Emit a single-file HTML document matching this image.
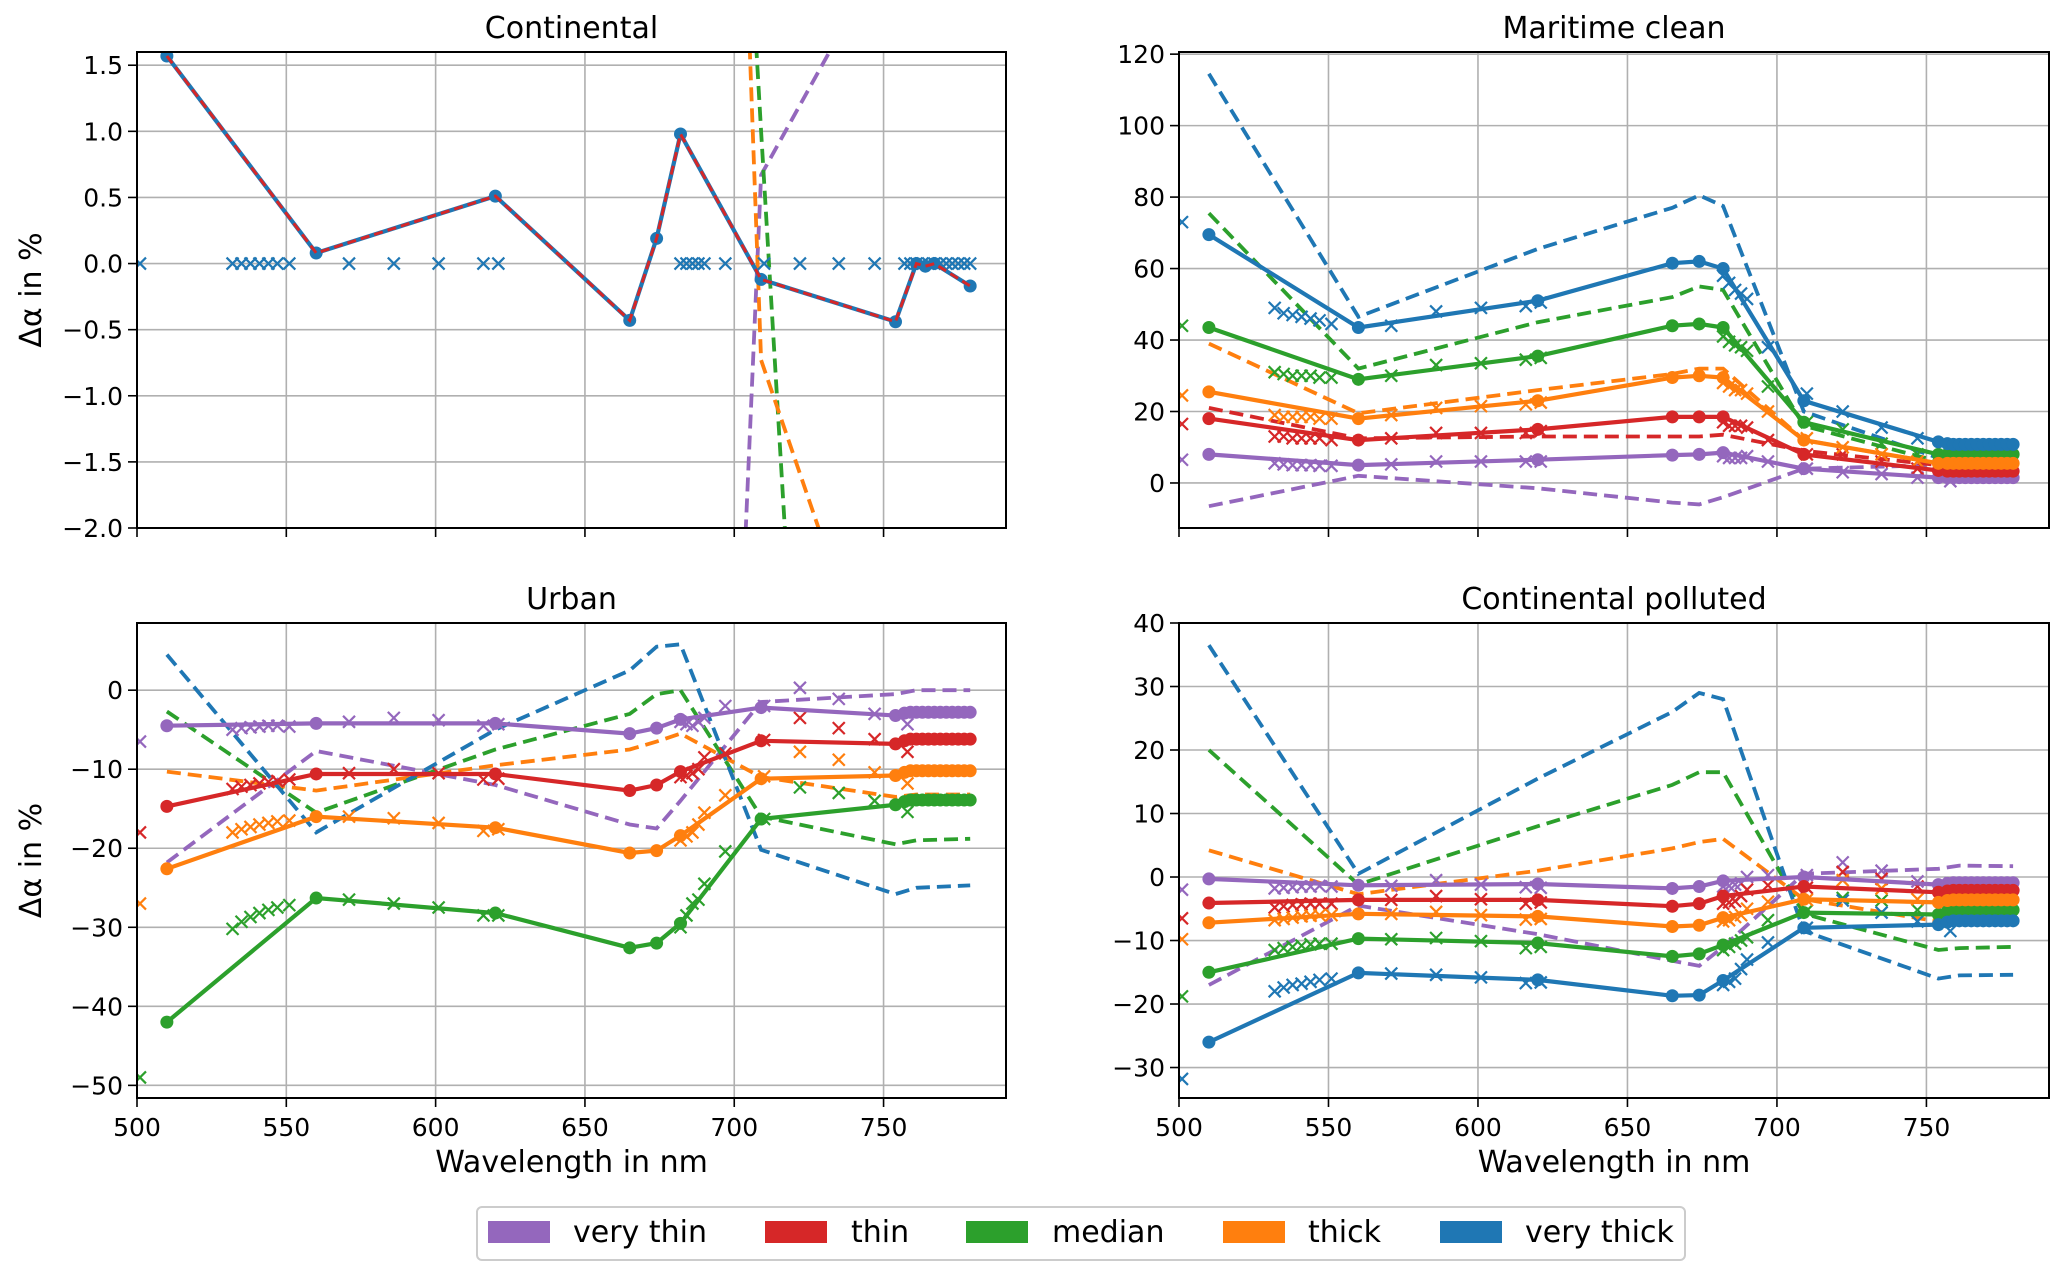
<!DOCTYPE html>
<html><head><meta charset="utf-8"><style>
html,body{margin:0;padding:0;background:#fff;overflow:hidden;width:2067px;height:1280px;}
svg{display:block;font-family:"DejaVu Sans","Liberation Sans",sans-serif;}
</style></head><body>
<svg id="fig" width="2067" height="1280" viewBox="0 0 2067 1280" xmlns="http://www.w3.org/2000/svg">
<rect width="2067" height="1280" fill="#fff"/>
<g id="legend">
<rect x="477" y="1207" width="1208" height="53" rx="5" fill="#fff" stroke="#cccccc" stroke-width="2"/>
<g><rect x="488" y="1221" width="62" height="22" fill="#9467bd"/><text x="573" y="1242" font-size="30">very thin</text></g>
<g><rect x="765" y="1221" width="62" height="22" fill="#d62728"/><text x="851" y="1242" font-size="30">thin</text></g>
<g><rect x="966" y="1221" width="62" height="22" fill="#2ca02c"/><text x="1052" y="1242" font-size="30">median</text></g>
<g><rect x="1223" y="1221" width="62" height="22" fill="#ff7f0e"/><text x="1308" y="1242" font-size="30">thick</text></g>
<g><rect x="1440" y="1221" width="62" height="22" fill="#1f77b4"/><text x="1525" y="1242" font-size="30">very thick</text></g>
</g>
</svg>
<script>
// ---- wavelength grids ----
const solidWl = [510,560,620,665,674,682,709,754,757,759,761,763,765,767,769,771,773,775,777,779];
const contSolidWl = [510,560,620,665,674,682,709,754,761,764,767,779];
const dashWl = [510,560,620,665,674,682,709,754,761,779];
const crossWl = [501,532,535,538,541,544,547,551,571,586,601,616,621,682,684,686,688,690,697,710,722,735,747,758];
const contCrossWl = [501,532,535,538,541,544,547,551,571,586,601,616,621,682,684,686,688,690,697,710,722,735,747,757,759,761,763,765,767,769,771,773,775,777,779];
const xTicks = [500,550,600,650,700,750];

// ---- Continental ----
const contSolidVeryThick = [1.57,0.08,0.51,-0.43,0.19,0.98,-0.12,-0.44,0.0,-0.02,0.0,-0.17];
const contDashThin = [1.57,0.08,0.51,-0.43,0.19,0.98,-0.12,-0.44,0.0,-0.02,0.0,-0.17];
const contDashVeryThin = [-8,-9,-10,-12,-13,-13.4,0.67,2.5,2.8,3.2];
const contDashMedian = [20,20,20,15,13,11.6,1.0,-16,-17,-18];
const contDashThick = [20,20,20,18,17,16,-0.73,-3.7,-4,-4.5];
const contCrossVeryThick = [0,0,0,0,0,0,0,0,0,0,0,0,0,0,0,0,0,0,0,0,0,0,0,0,0,0,0,0,0,0,0,0,0,0,0];
const contYTicks = [-2,-1.5,-1,-0.5,0,0.5,1,1.5];

// ---- Maritime clean ----
const marSolidVeryThin = [8,5,6.5,7.8,8,8.5,4,1.5,1.5,1.5,1.5,1.5,1.5,1.5,1.5,1.5,1.5,1.5,1.5,1.5];
const marSolidThin = [18,12,15,18.5,18.5,18.5,8,3.5,3.3,3.3,3.3,3.3,3.3,3.3,3.3,3.3,3.3,3.3,3.3,3.3];
const marSolidMedian = [43.5,29,35.5,44,44.5,43.5,17,8,8,8,8,8,8,8,8,8,8,8,8,8];
const marSolidThick = [25.5,18,23,29.5,30,29.5,12,5.5,5.5,5.5,5.5,5.5,5.5,5.5,5.5,5.5,5.5,5.5,5.5,5.5];
const marSolidVeryThick = [69.5,43.5,51,61.5,62,60,23,11.5,11,10.8,10.8,10.8,10.8,10.8,10.8,10.8,10.8,10.8,10.8,10.8];
const marDashVeryThin = [-6.5,2,-1.5,-5.5,-6,-4,4,5,5,5];
const marDashThin = [21,12.5,13,13,13,13.5,9,5,5,4];
const marDashMedian = [75.5,32,45,52,55,54,16,6,6,6];
const marDashThick = [39,19.5,26,30.5,32,32,12,5.5,5,5];
const marDashVeryThick = [114.5,46.5,65.5,77,80.5,77.5,20,7,6.5,6.5];
const marCrossVeryThin = [6.5,5.5,5.2,5,5,5,4.8,4.8,5.2,6,6,6,6,7.5,7,7,7,7.5,6,4,3,2.5,1.5,0.5];
const marCrossThin = [16.5,13,13,12.5,12.5,12.5,12.5,12,12.5,14,14,14,14.5,17,16,16,16,15.5,12,8,8,6,4,3];
const marCrossMedian = [44,31,30.5,30,30,30,29.5,29.5,30,33,33.5,34.5,35,41,39.5,38.5,38,37,27,17,15,11,8,7];
const marCrossThick = [24.5,19,18.5,18.5,18.5,18.5,18,18,19,21,21.5,22,22.5,28,27,26,26,25,20,12.5,10,8,6,4];
const marCrossVeryThick = [73,49,47.5,47,46.5,46,45.5,44.5,44,48,49,49.5,50.5,58,56,54,53,51.5,38,25,20,15.5,12.5,10.5];
const marYTicks = [0,20,40,60,80,100,120];

// ---- Urban ----
const urbSolidVeryThin = [-4.5,-4.2,-4.2,-5.5,-4.8,-3.7,-2.2,-3.2,-2.9,-2.8,-2.8,-2.8,-2.8,-2.8,-2.8,-2.8,-2.8,-2.8,-2.8,-2.8];
const urbSolidThin = [-14.7,-10.6,-10.6,-12.7,-12,-10.3,-6.4,-6.8,-6.4,-6.2,-6.2,-6.2,-6.2,-6.2,-6.2,-6.2,-6.2,-6.2,-6.2,-6.2];
const urbSolidMedian = [-42,-26.3,-28.2,-32.6,-32,-29.5,-16.3,-14.5,-14.1,-13.9,-13.9,-13.9,-13.9,-13.9,-13.9,-13.9,-13.9,-13.9,-13.9,-13.9];
const urbSolidThick = [-22.6,-16,-17.4,-20.6,-20.3,-18.4,-11.2,-10.8,-10.4,-10.2,-10.2,-10.2,-10.2,-10.2,-10.2,-10.2,-10.2,-10.2,-10.2,-10.2];
const urbDashVeryThin = [-21.8,-7.7,-12,-17,-17.5,-14,-1.5,-0.5,0,0];
const urbDashMedian = [-2.7,-15.5,-7.5,-3,-0.5,0,-16,-19.5,-19,-18.8];
const urbDashThick = [-10.3,-12.7,-9.5,-7.5,-6.5,-5.5,-11,-13.5,-13.2,-13.2];
const urbDashVeryThick = [4.5,-18,-5,2.5,5.5,5.8,-20.2,-25.8,-25,-24.7];
const urbCrossVeryThin = [-6.5,-5,-4.8,-4.7,-4.6,-4.5,-4.5,-4.6,-4,-3.5,-3.8,-4.5,-4.3,-4,-4.3,-4.5,-4,-3.5,-2,-2,0.3,-1.1,-3,-4.3];
const urbCrossThin = [-18,-12.5,-12.2,-12,-11.8,-11.6,-11.5,-11.3,-10.5,-10,-10.5,-11.3,-11.2,-11,-10.8,-10.5,-10,-8.5,-8,-6.3,-3.5,-4.8,-6.2,-7.8];
const urbCrossMedian = [-49,-30.2,-29.3,-28.7,-28.2,-27.8,-27.5,-27.2,-26.5,-27,-27.5,-28.5,-28.5,-30,-28.5,-27,-26.5,-24.5,-20.4,-16.3,-12.3,-13,-14,-15.4];
const urbCrossThick = [-27,-18,-17.6,-17.3,-17,-16.8,-16.6,-16.5,-16,-16.2,-16.8,-17.8,-17.6,-19,-18.5,-18,-17,-15.5,-13.3,-10.9,-7.8,-8.8,-10.4,-11.8];
const urbYTicks = [-50,-40,-30,-20,-10,0];

// ---- Continental polluted ----
const polSolidVeryThin = [-0.3,-1.3,-1.1,-1.8,-1.5,-0.6,0,-1.2,-1,-0.9,-0.9,-0.9,-0.9,-0.9,-0.9,-0.9,-0.9,-0.9,-0.9,-0.9];
const polSolidThin = [-4.1,-3.6,-3.6,-4.6,-4.2,-3,-1.5,-2.4,-2.2,-2.1,-2.1,-2.1,-2.1,-2.1,-2.1,-2.1,-2.1,-2.1,-2.1,-2.1];
const polSolidMedian = [-15,-9.7,-10.4,-12.5,-12.1,-10.7,-5.6,-5.9,-5.4,-5.2,-5.2,-5.2,-5.2,-5.2,-5.2,-5.2,-5.2,-5.2,-5.2,-5.2];
const polSolidThick = [-7.2,-5.8,-6.2,-7.8,-7.6,-6.4,-3.5,-4,-3.7,-3.6,-3.6,-3.6,-3.6,-3.6,-3.6,-3.6,-3.6,-3.6,-3.6,-3.6];
const polSolidVeryThick = [-26,-15.1,-16.2,-18.7,-18.6,-16.3,-8,-7.5,-7.1,-6.9,-6.9,-6.9,-6.9,-6.9,-6.9,-6.9,-6.9,-6.9,-6.9,-6.9];
const polDashVeryThin = [-17,-4.5,-9,-13.2,-14,-11,0.5,1.3,1.8,1.7];
const polDashMedian = [20,-1.2,8,14.5,16.5,16.5,-5.8,-11.5,-11.2,-11];
const polDashThick = [4.2,-2.7,1,4.5,5.5,6,-3.5,-7,-7,-7];
const polDashVeryThick = [36.5,0.5,15.5,26,29,28,-8.5,-16,-15.5,-15.4];
const polCrossVeryThin = [-2,-1.8,-1.7,-1.6,-1.5,-1.5,-1.4,-1.5,-1.4,-0.5,-1.2,-1.6,-1.7,-1.5,-1.4,-1.2,-1,0,0.3,0.3,2.3,1,-0.7,-1];
const polCrossThin = [-6.5,-4.8,-4.6,-4.4,-4.3,-4.2,-4.2,-4.2,-3.6,-3,-3.5,-4.2,-4,-4.2,-4,-3.8,-3,-2,-1.3,-1.7,0.8,-0.3,-1.5,-2];
const polCrossMedian = [-18.8,-11.5,-11.2,-11,-10.8,-10.6,-10.5,-10.5,-9.8,-9.6,-10.1,-11.2,-11,-11.5,-11,-10.5,-10,-9.5,-6.8,-5.3,-3.3,-3.7,-5.2,-5.5];
const polCrossThick = [-9.8,-6.8,-6.6,-6.4,-6.2,-6.1,-6,-6,-5.8,-5.5,-6,-6.7,-6.6,-7,-6.8,-6.3,-6,-5,-3.9,-3.6,-0.5,-1.8,-3.5,-4];
const polCrossVeryThick = [-31.8,-18,-17.4,-17,-16.8,-16.5,-16.2,-16,-15.2,-15.4,-15.8,-16.7,-16.6,-17,-16.5,-16,-14.5,-13,-10.3,-8,-3.7,-5.6,-7,-8.5];
const polYTicks = [-30,-20,-10,0,10,20,30,40];

const C = {vt:'#9467bd', t:'#d62728', m:'#2ca02c', k:'#ff7f0e', vk:'#1f77b4'};
const NS = 'http://www.w3.org/2000/svg';
const svg = document.getElementById('fig');
function mk(tag, attrs, parent){const e=document.createElementNS(NS,tag);for(const k in attrs)e.setAttribute(k,attrs[k]);(parent||svg).appendChild(e);return e;}
function fmt(v,dec){const s=v.toFixed(dec);return s.replace('-','\u2212');}

const panels = [
 {id:'continental', title:'Continental', L:137,R:1006,T:52,B:528, ymin:-2.0,ymax:1.6, yt:contYTicks, dec:1, xlab:false, ylab:true,
  sWl:contSolidWl, cWl:contCrossWl, oWl:contSolidWl,
  dashes:[['very-thin',contDashVeryThin,C.vt],['median',contDashMedian,C.m],['thick',contDashThick,C.k]],
  solids:[['very-thick',contSolidVeryThick,C.vk]],
  overDash:[['thin',contDashThin,C.t]],
  crosses:[['very-thick',contCrossVeryThick,C.vk]]},
 {id:'maritime', title:'Maritime clean', L:1179,R:2049,T:52,B:528, ymin:-12.6,ymax:120.6, yt:marYTicks, dec:0, xlab:false, ylab:false,
  sWl:solidWl, cWl:crossWl, oWl:dashWl,
  dashes:[['very-thin',marDashVeryThin,C.vt],['thin',marDashThin,C.t],['median',marDashMedian,C.m],['thick',marDashThick,C.k],['very-thick',marDashVeryThick,C.vk]],
  solids:[['very-thin',marSolidVeryThin,C.vt],['thin',marSolidThin,C.t],['median',marSolidMedian,C.m],['thick',marSolidThick,C.k],['very-thick',marSolidVeryThick,C.vk]],
  overDash:[],
  crosses:[['very-thin',marCrossVeryThin,C.vt],['thin',marCrossThin,C.t],['median',marCrossMedian,C.m],['thick',marCrossThick,C.k],['very-thick',marCrossVeryThick,C.vk]]},
 {id:'urban', title:'Urban', L:137,R:1006,T:623,B:1098, ymin:-51.6,ymax:8.5, yt:urbYTicks, dec:0, xlab:true, ylab:true,
  sWl:solidWl, cWl:crossWl, oWl:dashWl,
  dashes:[['very-thin',urbDashVeryThin,C.vt],['median',urbDashMedian,C.m],['thick',urbDashThick,C.k],['very-thick',urbDashVeryThick,C.vk]],
  solids:[['very-thin',urbSolidVeryThin,C.vt],['thin',urbSolidThin,C.t],['median',urbSolidMedian,C.m],['thick',urbSolidThick,C.k]],
  overDash:[],
  crosses:[['very-thin',urbCrossVeryThin,C.vt],['thin',urbCrossThin,C.t],['median',urbCrossMedian,C.m],['thick',urbCrossThick,C.k]]},
 {id:'polluted', title:'Continental polluted', L:1179,R:2049,T:623,B:1098, ymin:-34.8,ymax:40, yt:polYTicks, dec:0, xlab:true, ylab:false,
  sWl:solidWl, cWl:crossWl, oWl:dashWl,
  dashes:[['very-thin',polDashVeryThin,C.vt],['median',polDashMedian,C.m],['thick',polDashThick,C.k],['very-thick',polDashVeryThick,C.vk]],
  solids:[['very-thin',polSolidVeryThin,C.vt],['thin',polSolidThin,C.t],['median',polSolidMedian,C.m],['thick',polSolidThick,C.k],['very-thick',polSolidVeryThick,C.vk]],
  overDash:[],
  crosses:[['very-thin',polCrossVeryThin,C.vt],['thin',polCrossThin,C.t],['median',polCrossMedian,C.m],['thick',polCrossThick,C.k],['very-thick',polCrossVeryThick,C.vk]]}
];

const defs = mk('defs',{});
panels.forEach(p=>{
  const xs = w => p.L + (w-500)*(p.R-p.L)/(791-500);
  const ys = v => p.T + (p.ymax-v)*(p.B-p.T)/(p.ymax-p.ymin);
  const cp = mk('clipPath',{id:'clip-'+p.id},defs);
  mk('rect',{x:p.L,y:p.T,width:p.R-p.L,height:p.B-p.T},cp);
  const g = mk('g',{});
  
  
  const t = mk('text',{x:(p.L+p.R)/2,y:p.T-14,'text-anchor':'middle','font-size':30},g);
  t.textContent = p.title;
  
  
  const grid = mk('g',{stroke:'#b0b0b0','stroke-width':1.6},g);
  
  
  xTicks.forEach(w=>{
    mk('line',{x1:xs(w),x2:xs(w),y1:p.T,y2:p.B},grid);
    mk('line',{x1:xs(w),x2:xs(w),y1:p.B,y2:p.B+9,stroke:'#000','stroke-width':1.6},g);
    if(p.xlab){const tl=mk('text',{x:xs(w),y:p.B+38,'text-anchor':'middle','font-size':25},g);tl.textContent=String(w);
      
      }
  });
  p.yt.forEach(v=>{
    mk('line',{x1:p.L,x2:p.R,y1:ys(v),y2:ys(v)},grid);
    mk('line',{x1:p.L-9,x2:p.L,y1:ys(v),y2:ys(v),stroke:'#000','stroke-width':1.6},g);
    const tl=mk('text',{x:p.L-14,y:ys(v)+9,'text-anchor':'end','font-size':25},g);tl.textContent=fmt(v,p.dec);
    
    
  });
  const plot = mk('g',{'clip-path':'url(#clip-'+p.id+')'},g);
  const path = (wl,vals)=>wl.map((w,i)=>(i?'L':'M')+xs(w).toFixed(1)+','+ys(vals[i]).toFixed(1)).join(' ');
  p.dashes.forEach(([n,vals,col])=>{
    const e=mk('path',{d:path(dashWl,vals),fill:'none',stroke:col,'stroke-width':3.8,'stroke-dasharray':'14,7'},plot);
    
    
  });
  p.crosses.forEach(([n,vals,col])=>{
    const cg=mk('g',{stroke:col,'stroke-width':2.2},plot);
    
    
    p.cWl.forEach((w,i)=>{const x=xs(w),y=ys(vals[i]),s=6;
      mk('path',{d:`M${x-s},${y-s}L${x+s},${y+s}M${x-s},${y+s}L${x+s},${y-s}`},cg);});
  });
  p.solids.forEach(([n,vals,col])=>{
    const sg=mk('g',{},plot);
    
    
    mk('path',{d:path(p.sWl,vals),fill:'none',stroke:col,'stroke-width':4.2},sg);
    p.sWl.forEach((w,i)=>mk('circle',{cx:xs(w),cy:ys(vals[i]),r:6.5,fill:col},sg));
  });
  p.overDash.forEach(([n,vals,col])=>{
    const e=mk('path',{d:path(p.oWl,vals),fill:'none',stroke:col,'stroke-width':3,'stroke-dasharray':'9,5'},plot);
    
    
  });
  mk('rect',{x:p.L,y:p.T,width:p.R-p.L,height:p.B-p.T,fill:'none',stroke:'#000','stroke-width':2},g);
  if(p.xlab){const xl=mk('text',{x:(p.L+p.R)/2,y:1172,'text-anchor':'middle','font-size':30},g);xl.textContent='Wavelength in nm';
    
    }
  if(p.ylab){const cy=(p.T+p.B)/2;const yl=mk('text',{x:41,y:cy,'text-anchor':'middle','font-size':30,transform:`rotate(-90 41 ${cy})`},g);
    yl.textContent='\u0394\u03b1 in %';
    
    }
});
</script>
</body></html>
